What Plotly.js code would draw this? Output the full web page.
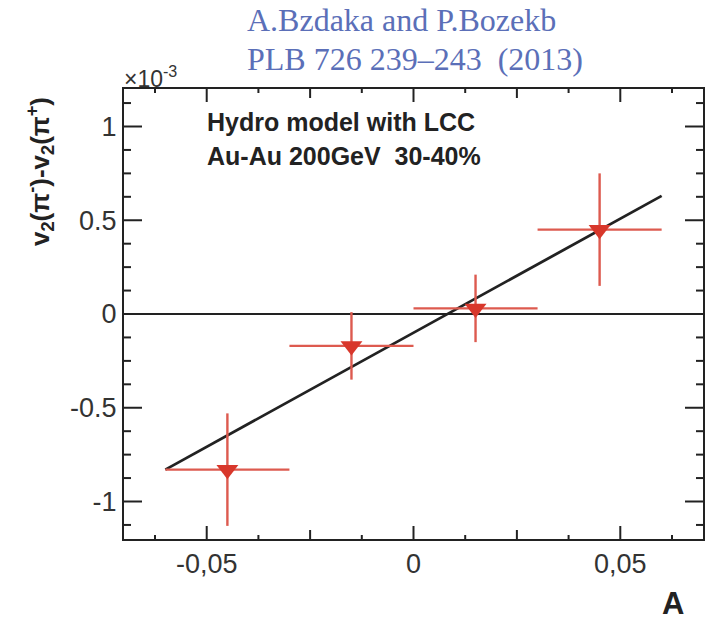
<!DOCTYPE html>
<html>
<head>
<meta charset="utf-8">
<script src="https://cdn.plot.ly/plotly-3.0.1.min.js"></script>
<style>html,body{margin:0;padding:0;background:#fff;}#chart{width:717px;height:620px;}</style>
</head>
<body>
<div id="chart"></div>
<script>
// Data (y in units of 1e-3)
const asym = [-0.045, -0.015, 0.015, 0.045];
const dv2 = [-0.83, -0.17, 0.03, 0.45];
const asymErr = [0.015, 0.015, 0.015, 0.015];
const dv2Err = [0.30, 0.18, 0.18, 0.30];
const fitX = [-0.06, 0.06];
const fitY = [-0.83, 0.63];
const xTickVals = [-0.05, 0, 0.05];
const xTickText = ["-0,05", "0", "0,05"];
const yTickVals = [-1, -0.5, 0, 0.5, 1];
const yTickText = ["-1", "-0.5", "0", "0.5", "1"];

const xRange = [-0.07, 0.07];
const yRange = [-1.2, 1.2];
const sans = 'Liberation Sans, Arial, sans-serif';
const serif = 'Liberation Serif, Times New Roman, serif';
const M = {l: 124, r: 14, t: 89, b: 81};
const pw = 717 - M.l - M.r, ph = 620 - M.t - M.b;

// Inside, mirrored tick marks built from the tick positions (axis decoration)
const tx = [], ty = [];
const xu = (xRange[1] - xRange[0]) / pw, yu = (yRange[1] - yRange[0]) / ph;
function xTick(v, len) {
  tx.push(v, v, null, v, v, null);
  ty.push(yRange[0], yRange[0] + len * yu, null, yRange[1], yRange[1] - len * yu, null);
}
function yTick(v, len) {
  tx.push(xRange[0], xRange[0] + len * xu, null, xRange[1], xRange[1] - len * xu, null);
  ty.push(v, v, null, v, v, null);
}
xTickVals.forEach(v => xTick(v, 13));
for (let k = -5; k <= 5; k++) { if (k % 4 !== 0) xTick(k * 0.0125, k % 2 === 0 ? 9 : 4); }
yTickVals.forEach(v => yTick(v, 18));
for (let k = -9; k <= 9; k++) { if (k % 4 !== 0) yTick(k * 0.125, 7); }

const traces = [
  {
    x: tx, y: ty, mode: 'lines', type: 'scatter', connectgaps: false, cliponaxis: false,
    line: {color: '#222', width: 2}, hoverinfo: 'skip', showlegend: false
  },
  {
    x: fitX, y: fitY, mode: 'lines', type: 'scatter',
    line: {color: '#222', width: 2.8}, hoverinfo: 'skip', showlegend: false
  },
  {
    x: asym, y: dv2, mode: 'markers', type: 'scatter', showlegend: false,
    marker: {symbol: 'triangle-down', size: 19, color: '#d8372b'},
    error_x: {type: 'data', array: asymErr, color: '#dd5a4f', thickness: 2.4, width: 0},
    error_y: {type: 'data', array: dv2Err, color: '#dd5a4f', thickness: 2.4, width: 0}
  }
];

const layout = {
  width: 717, height: 620,
  margin: M,
  paper_bgcolor: '#fff', plot_bgcolor: '#fff',
  xaxis: {
    range: xRange, showgrid: false, zeroline: false,
    showline: true, linecolor: '#222', linewidth: 2, mirror: true,
    ticks: '', tickmode: 'array', tickvals: xTickVals, ticktext: xTickText,
    tickfont: {family: sans, size: 27, color: '#333'}
  },
  yaxis: {
    range: yRange, showgrid: false,
    zeroline: true, zerolinecolor: '#222', zerolinewidth: 2.5,
    showline: true, linecolor: '#222', linewidth: 2, mirror: true,
    ticks: '', tickmode: 'array', tickvals: yTickVals, ticktext: yTickText,
    tickfont: {family: sans, size: 27, color: '#333'}
  },
  annotations: [
    {text: 'A.Bzdaka and P.Bozekb', font: {family: serif, size: 32, color: '#5b6fb8'}},
    {text: 'PLB 726 239–243  (2013)', font: {family: serif, size: 32, color: '#5b6fb8'}},
    {text: '×10<sup>-3</sup>', font: {family: sans, size: 23, color: '#333'}},
    {text: '<b>Hydro model with LCC</b>', font: {family: sans, size: 25, color: '#222'}},
    {text: '<b>Au-Au 200GeV  30-40%</b>', font: {family: sans, size: 25, color: '#222'}},
    {text: '<b>v<sub>2</sub>(π<sup>-</sup>)-v<sub>2</sub>(π<sup>+</sup>)</b>', textangle: -90, font: {family: sans, size: 26, color: '#222'}},
    {text: '<b>A</b>', font: {family: sans, size: 31, color: '#222'}}
  ]
};

// place annotations (pixel positions converted to paper coords)
function px(x) { return (x - M.l) / pw; }
function py(y) { return (620 - M.b - y) / ph; }
const pos = [
  [245, 20, 'left'], [245, 59, 'left'], [122, 77, 'left'],
  [205, 122, 'left'], [205, 156, 'left'], [40, 172, 'center'], [673, 603, 'center']
];
layout.annotations.forEach((a, i) => {
  a.xref = 'paper'; a.yref = 'paper'; a.showarrow = false;
  a.x = px(pos[i][0]); a.y = py(pos[i][1]);
  a.xanchor = pos[i][2]; a.yanchor = 'middle';
});

Plotly.newPlot('chart', traces, layout, {displayModeBar: false, staticPlot: true});
</script>
</body>
</html>
